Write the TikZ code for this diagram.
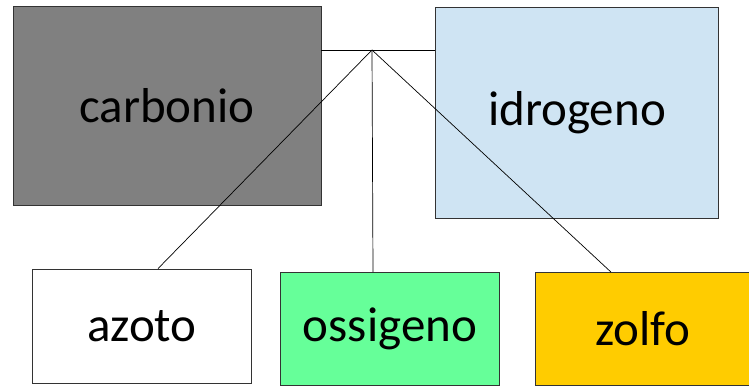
\documentclass[tikz,border=0pt]{standalone}
\usepackage{fontspec}
\setmainfont{Carlito}
\usetikzlibrary{positioning,calc}

\definecolor{grigio}{HTML}{808080}
\definecolor{azzurro}{HTML}{CFE4F3}
\definecolor{verde}{HTML}{66FF99}
\definecolor{giallo}{HTML}{FFCC00}

\begin{document}
\begin{tikzpicture}[x=1pt,y=-1pt,
  font=\fontsize{49}{56}\selectfont,
  elem/.style={draw=black!80,line width=.8pt,inner sep=0pt},
  link/.style={draw=black,line width=.7pt}]
\useasboundingbox (0,0) rectangle (749,387);
% top row
\node[elem,fill=grigio,minimum width=308pt,minimum height=199pt] (carbonio) at (167,105.5) {carbonio};
\node[elem,fill=azzurro,minimum width=283pt,minimum height=211pt] (idrogeno) at (577,112.5) {idrogeno};
% bottom row
\node[elem,fill=white,minimum width=219pt,minimum height=114pt] (azoto) at (142,326) {azoto};
\node[elem,fill=verde,minimum width=219pt,minimum height=113pt] (ossigeno) at (390,329) {ossigeno};
\node[elem,fill=giallo,minimum width=216pt,minimum height=113pt] (zolfo) at (643,329) {zolfo};
% connectors
\coordinate (hub) at (372,50);
\draw[link] (carbonio.east |- hub) -- (idrogeno.west |- hub);
\draw[link] (hub) -- ([xshift=16pt]azoto.north);
\draw[link] (hub) -- ([xshift=-17pt]ossigeno.north);
\draw[link] (hub) -- ([xshift=-32pt]zolfo.north);
\end{tikzpicture}
\end{document}
